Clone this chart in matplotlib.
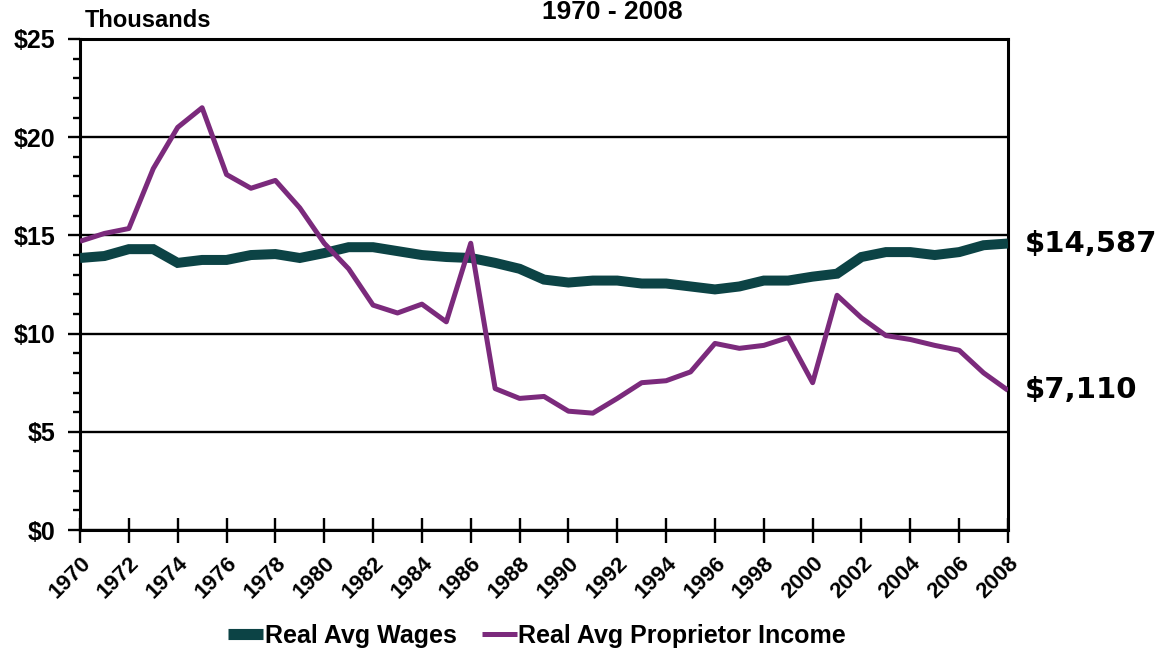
import matplotlib
matplotlib.use("Agg")
import matplotlib.pyplot as plt
from matplotlib.ticker import MultipleLocator

# data (thousands of real dollars)
years = list(range(1970, 2009))
wages = [13.85, 13.95, 14.3, 14.3, 13.6, 13.75, 13.75, 14.0, 14.05, 13.85,
         14.1, 14.4, 14.4, 14.2, 14.0, 13.9, 13.85, 13.6, 13.3, 12.75,
         12.6, 12.7, 12.7, 12.55, 12.55, 12.4, 12.25, 12.4, 12.7, 12.7,
         12.9, 13.05, 13.9, 14.15, 14.15, 14.0, 14.15, 14.5, 14.587]
proprietor = [14.7, 15.1, 15.35, 18.4, 20.5, 21.5, 18.1, 17.4, 17.8, 16.4,
              14.6, 13.3, 11.45, 11.05, 11.5, 10.6, 14.6, 7.2, 6.7, 6.8,
              6.05, 5.95, 6.7, 7.5, 7.6, 8.05, 9.5, 9.25, 9.4, 9.8,
              7.5, 11.95, 10.8, 9.9, 9.7, 9.4, 9.15, 8.0, 7.11]
series_names = ["Real Avg Wages", "Real Avg Proprietor Income"]
end_labels = ["$14,587", "$7,110"]
ytick_vals = [0, 5, 10, 15, 20, 25]
ytick_labels = ["$0", "$5", "$10", "$15", "$20", "$25"]
xtick_vals = list(range(1970, 2009, 2))

teal = "#0c4345"
purple = "#7b2a7c"

plt.rcParams["font.family"] = ["Liberation Sans", "DejaVu Sans"]
plt.rcParams["font.weight"] = "bold"

W, H = 1167, 651
fig = plt.figure(figsize=(W / 100, H / 100), dpi=100)
ax = fig.add_axes([80 / W, 1 - 530 / H, 928 / W, 491 / H])

ax.plot(years, wages, color=teal, lw=7.2, solid_capstyle="butt",
        solid_joinstyle="miter", label=series_names[0], zorder=3)
ax.plot(years, proprietor, color=purple, lw=3.6, solid_capstyle="butt",
        label=series_names[1], zorder=4)

ax.set_xlim(1970, 2008)
ax.set_ylim(0, 25)

ax.set_yticks(ytick_vals)
ax.set_yticklabels(ytick_labels, fontsize=18, fontweight="bold")
ax.yaxis.set_minor_locator(MultipleLocator(1))
ax.tick_params(axis="y", which="major", direction="out", length=8.6,
               width=1.7, pad=9)
ax.tick_params(axis="y", which="minor", direction="out", length=5,
               width=1.7)

ax.set_xticks(xtick_vals)
ax.set_xticklabels([str(y) for y in xtick_vals], rotation=45, ha="right",
                   va="top", rotation_mode="anchor", fontsize=16,
                   fontweight="bold")
ax.tick_params(axis="x", which="major", direction="inout", length=18,
               width=1.7, pad=7)

ax.grid(axis="y", which="major", color="black", lw=1.7)
for s in ax.spines.values():
    s.set_linewidth(2.2)
    s.set_color("black")

# values at the end of each line
for vals, txt in zip([wages, proprietor], end_labels):
    ax.annotate(txt, xy=(years[-1], vals[-1]), xytext=(12, 0),
                textcoords="offset points", ha="left", va="center",
                fontsize=21, fontweight="bold", family="DejaVu Sans",
                annotation_clip=False)

fig.text(85 / W, 1 - 27 / H, "Thousands", fontsize=17, fontweight="bold",
         ha="left", va="baseline")
fig.text(612 / W, 1 - 19 / H, "1970 - 2008", fontsize=19, fontweight="bold",
         ha="center", va="baseline")

leg = fig.legend(loc="center", bbox_to_anchor=(537 / W, 1 - 636 / H),
                 ncol=2, frameon=False, fontsize=18, handlelength=1.4,
                 handletextpad=0.05, columnspacing=1.0, borderaxespad=0)
leg.get_lines()[0].set_linewidth(8)
leg.get_lines()[1].set_linewidth(3.6)
for t in leg.get_texts():
    t.set_fontweight("bold")

fig.savefig("out.png", dpi=100)
